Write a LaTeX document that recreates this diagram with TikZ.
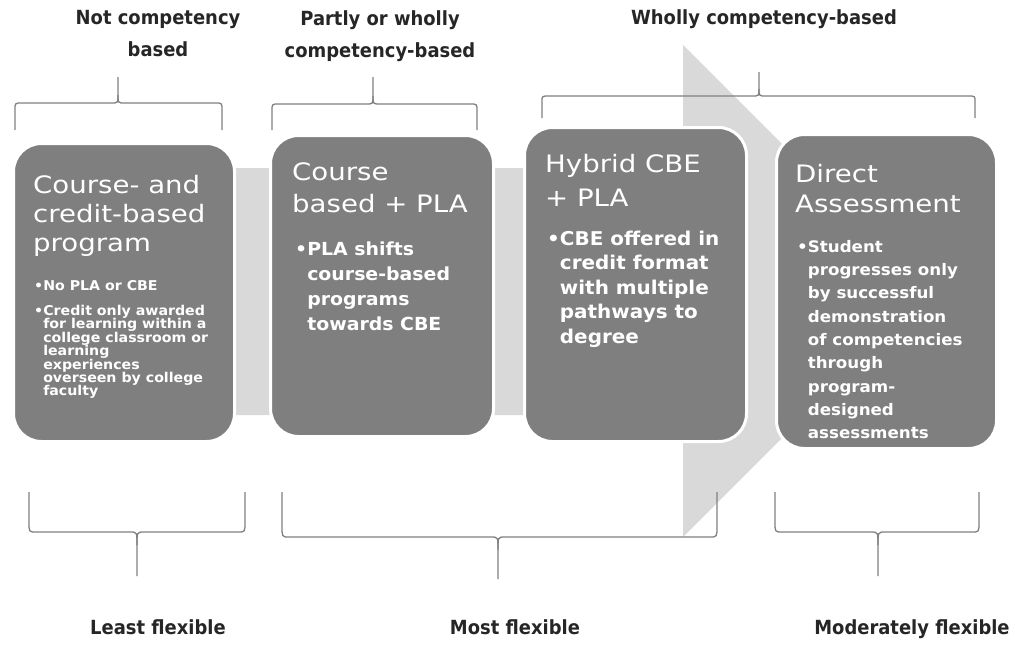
\documentclass[tikz,border=0pt]{standalone}
\usepackage{fontspec}
\setmainfont{DejaVu Sans}
\newfontfamily\boxfont[FakeStretch=1.15]{DejaVu Sans}
\newfontfamily\pointfont[FakeStretch=1.05]{DejaVu Sans}
\newfontfamily\lblfont[FakeStretch=0.92]{DejaVu Sans}

\definecolor{boxgray}{HTML}{7F7F7F}
\definecolor{arrowgray}{HTML}{D9D9D9}
\definecolor{bracegray}{HTML}{808080}
\definecolor{lbltext}{HTML}{262626}

% curly bracket: x-left, x-right, x-tip, y-ends, y-bar, y-tip
\newcommand\stagebrace[6]{%
  \draw[bracket] (#1,#4) -- (#1,{#5+0.25*(#4-#5)}) .. controls (#1,#5) .. ({#1+7},#5)
    -- ({#3-7},#5) .. controls (#3,#5) .. (#3,{#5+0.3*(#6-#5)}) -- (#3,#6);
  \draw[bracket] (#2,#4) -- (#2,{#5+0.25*(#4-#5)}) .. controls (#2,#5) .. ({#2-7},#5)
    -- ({#3+7},#5) .. controls (#3,#5) .. (#3,{#5+0.3*(#6-#5)});
}

\begin{document}
\begin{tikzpicture}[x=1pt,y=-1pt,
  stage/.style={rectangle, rounded corners=28pt, fill=boxgray, draw=white,
    line width=3pt, inner sep=0pt},
  title/.style={anchor=north west, inner sep=0pt, align=left, text=white,
    font={\boxfont\fontsize{24}{30}\selectfont}},
  point/.style={anchor=north west, inner sep=0pt, align=left, text=white},
  lbl/.style={inner sep=0pt, align=center, text=lbltext,
    font={\lblfont\bfseries\fontsize{19.5}{32}\selectfont}},
  bracket/.style={draw=bracegray, line width=1.3pt}]

\useasboundingbox (0,0) rectangle (1015,665);

% background progress arrow
\fill[arrowgray] (100,168) -- (683,168) -- (683,45) -- (929,291)
  -- (683,537) -- (683,415) -- (100,415) -- cycle;

% brackets above and below the stages
\stagebrace{15}{222}{118}{130}{103}{77}
\stagebrace{272}{477}{373}{130}{104}{77}
\stagebrace{542}{975}{759}{118}{96}{72}
\stagebrace{29}{245}{137}{492}{532}{576}
\stagebrace{282}{717}{498}{492}{537}{579}
\stagebrace{775}{979}{878}{492}{532}{576}

% stages
\node[stage, minimum width=221pt, minimum height=298pt] (s1) at (124,292.5) {};
\node[stage, minimum width=223pt, minimum height=301pt] (s2) at (382,286) {};
\node[stage, minimum width=222pt, minimum height=314pt] (s3) at (635.5,284.5) {};
\node[stage, minimum width=220pt, minimum height=314pt] (s4) at (886.5,291.5) {};

% stage 1
\node[title, font={\boxfont\fontsize{24}{29}\selectfont}] (t1) at (33,175)
  {Course- and\\credit-based\\program};
\node[point, font={\pointfont\bfseries\fontsize{13.5}{13.4}\selectfont}] (p1a) at (34,280)
  {•No PLA or CBE};
\node[point, font={\pointfont\bfseries\fontsize{13.5}{13.4}\selectfont}] (p1b) at (34,305)
  {•Credit only awarded\\\hphantom{•}for learning within a\\\hphantom{•}college classroom or\\\hphantom{•}learning\\\hphantom{•}experiences\\\hphantom{•}overseen by college\\\hphantom{•}faculty};

% stage 2
\node[title, font={\boxfont\fontsize{24}{32}\selectfont}] (t2) at (292,162)
  {Course\\based + PLA};
\node[point, font={\pointfont\bfseries\fontsize{18}{25}\selectfont}] (p2) at (295,241.3)
  {•PLA shifts\\\hphantom{•}course-based\\\hphantom{•}programs\\\hphantom{•}towards CBE};

% stage 3
\node[title, font={\boxfont\fontsize{24}{34}\selectfont}] (t3) at (545,154)
  {Hybrid CBE\\+ PLA};
\node[point, font={\pointfont\bfseries\fontsize{19}{24.5}\selectfont}] (p3) at (547,230.5)
  {•CBE offered in\\\hphantom{•}credit format\\\hphantom{•}with multiple\\\hphantom{•}pathways to\\\hphantom{•}degree};

% stage 4
\node[title, font={\boxfont\fontsize{24}{30}\selectfont}] (t4) at (795,164)
  {Direct\\Assessment};
\node[point, font={\pointfont\bfseries\fontsize{15.9}{23.3}\selectfont}] (p4) at (797,240)
  {•Student\\\hphantom{•}progresses only\\\hphantom{•}by successful\\\hphantom{•}demonstration\\\hphantom{•}of competencies\\\hphantom{•}through\\\hphantom{•}program-\\\hphantom{•}designed\\\hphantom{•}assessments};

% category labels
\node[lbl, anchor=north] (c1) at (158,10) {Not competency\\based};
\node[lbl, anchor=north] (c2) at (380,10) {Partly or wholly\\competency-based};
\node[lbl, anchor=north] (c3) at (764,9) {Wholly competency-based};

% flexibility labels
\node[lbl, anchor=base] (f1) at (158,634) {Least flexible};
\node[lbl, anchor=base] (f2) at (515,634) {Most flexible};
\node[lbl, anchor=base] (f3) at (912,634) {Moderately flexible};

\end{tikzpicture}
\end{document}
